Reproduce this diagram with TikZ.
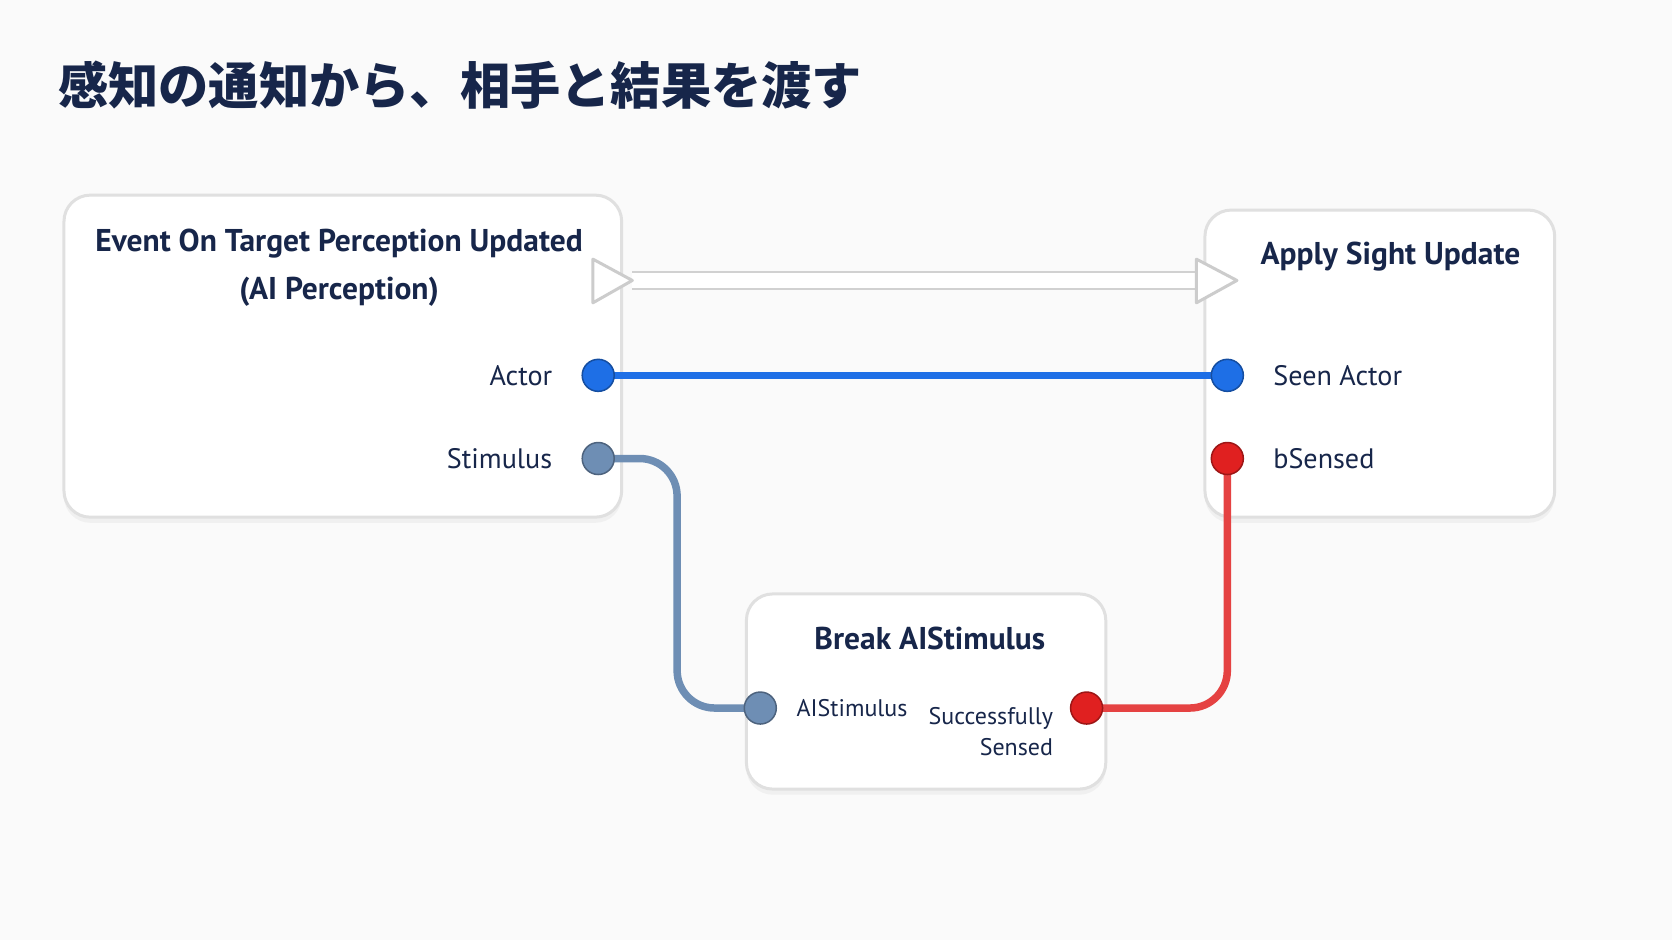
\documentclass[tikz,border=0pt]{standalone}
\usepackage{fontspec}
\setmainfont{PT Sans}
\newfontfamily\cjk{Noto Sans CJK JP}
\usetikzlibrary{positioning,shadows}
\definecolor{navy}{HTML}{17264A}
\definecolor{pinblue}{HTML}{1E6FE6}
\definecolor{pingray}{HTML}{6E8EB4}
\definecolor{pinred}{HTML}{E02020}
\begin{document}
\begin{tikzpicture}[x=0.01cm,y=-0.01cm,
    blueprint/.style ={draw=black!12, fill=white, rounded corners=7pt, line width=0.8pt,
      drop shadow={opacity=0.08, shadow xshift=0pt, shadow yshift=-1.5pt}},
    pin/.style ={circle, draw=#1!70!black, fill=#1, inner sep=0pt, minimum size=0.3cm},
    exec/.style ={draw=black!20, fill=white, line width=0.8pt, line join=round},
    title/.style ={font=\fontsize{8.4}{12.8}\selectfont\bfseries, text=navy, align=center},
    label/.style ={font=\fontsize{7.5}{9.5}\selectfont, text=navy}]
   \fill[black!2] (0,0) rectangle (1568,882);
   \node[anchor=base west, text=navy, font=\cjk\fontsize{13.4}{16}\selectfont\bfseries] (T) at (42,98) {感知の通知から、相手と結果を渡す};

   \draw[blueprint] (60,183) rectangle (583,485);
   \draw[blueprint] (1130,197) rectangle (1458,485);
   \draw[blueprint] (700,557) rectangle (1037,740);

   \node[title] (E) at (318,251) {Event On Target Perception Updated\\(AI Perception)};
   \node[title] (A) at (1304,241) {Apply Sight Update};
   \node[title] (B) at (872,599) {Break AIStimulus};

   % exec wire
   \coordinate (x1) at (593,263);
   \coordinate (x2) at (1122,263);
   \draw[black!18, line width=5pt] (x1) -- (x2);
   \draw[white, line width=3.8pt] (x1) -- (x2);
   \draw[exec] (556,243) -- (x1) -- (556,284) -- cycle;
   \draw[exec] (1122,243) -- (1160,263) -- (1122,284) -- cycle;

   % wires
   \draw[pinblue, line width=2pt] (561,352) -- (1151,352);
   \draw[pingray, line width=2pt, rounded corners=10pt] (561,430) -- (635,430) -- (635,664) -- (713,664);
   \draw[pinred!85, line width=2pt, rounded corners=10pt] (1019,664) -- (1151,664) -- (1151,430);

   % pins
   \node[pin=pinblue] (actor) at (561,352) {};
   \node[pin=pingray] (stim) at (561,430) {};
   \node[pin=pinblue] (seen) at (1151,352) {};
   \node[pin=pinred] (bs) at (1151,430) {};
   \node[pin=pingray] (ais) at (713,664) {};
   \node[pin=pinred] (succ) at (1019,664) {};

   \node[label, left=0.15cm of actor] {Actor};
   \node[label, left=0.15cm of stim] {Stimulus};
   \node[label, right=0.15cm of seen] {Seen Actor};
   \node[label, right=0.15cm of bs] {bSensed};
   \node[label, right=0.06cm of ais, font=\fontsize{6.4}{8.3}\selectfont] {AIStimulus};
   \node[label, anchor=north east, align=right, font=\fontsize{6.4}{8.3}\selectfont] at (1000,651) {Successfully\\Sensed};
\end{tikzpicture}
\end{document}
